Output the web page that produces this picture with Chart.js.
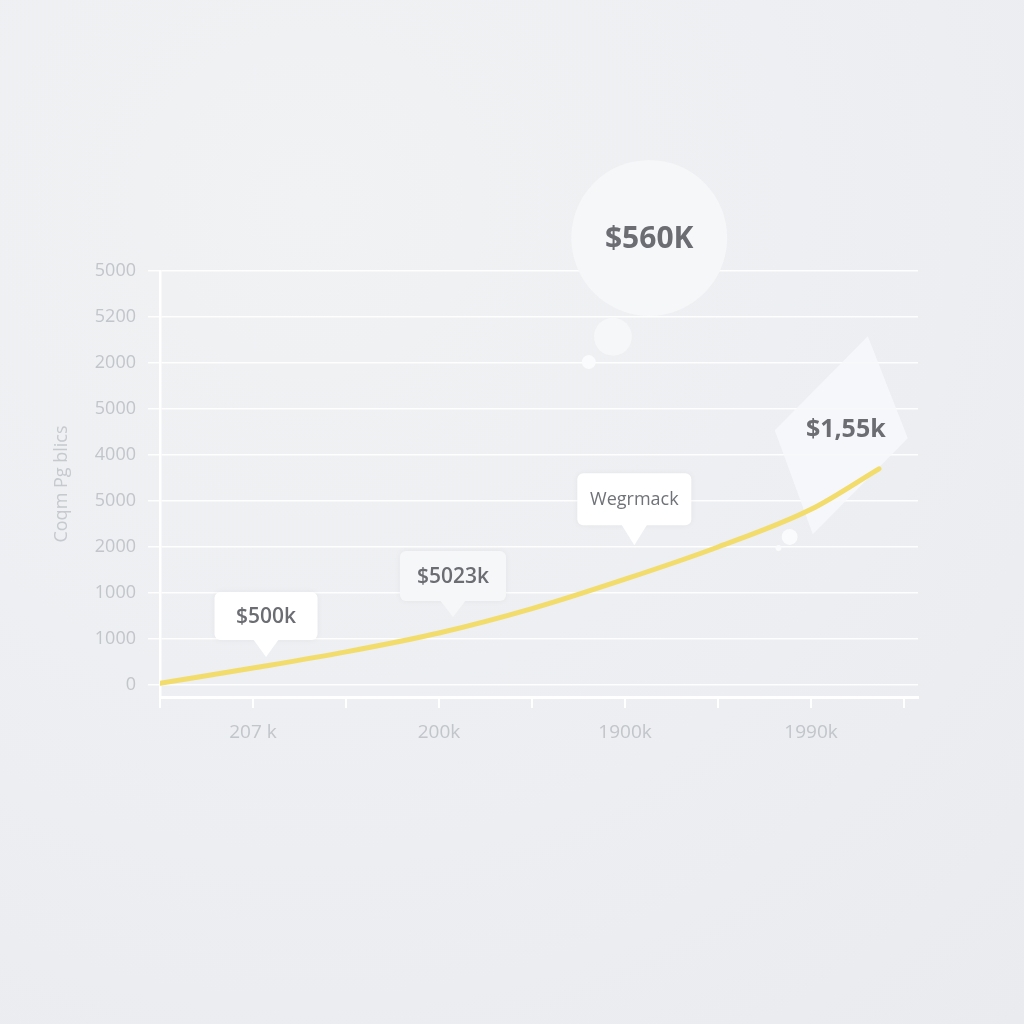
<!DOCTYPE html>
<html>
<head>
<meta charset="utf-8">
<script src="https://cdn.jsdelivr.net/npm/chart.js@4.4.1/dist/chart.umd.min.js"></script>
<style>
  html, body { margin: 0; padding: 0; }
  body {
    width: 1024px; height: 1024px; overflow: hidden;
    background: radial-gradient(circle at 30% 20%, #f1f2f4 0%, #eceef1 60%, #e9ebee 100%);
  }
  #wrap { position: absolute; left: 0; top: 0; width: 1024px; height: 1024px; }
</style>
</head>
<body>
<div id="wrap"><canvas id="chart" width="1024" height="1024"></canvas></div>
<script>
// Data
const xPositions = [0, 1, 2, 3, 4, 5, 6, 7, 7.73];
const seriesValues = [0.04, 0.37, 0.72, 1.13, 1.66, 2.3, 3.0, 3.82, 4.7];
const yTickLabels = ['0', '1000', '1000', '2000', '5000', '4000', '5000', '2000', '5200', '5000'];
const xTickLabels = ['', '207 k', '', '200k', '', '1900k', '', '1990k', ''];
const yTitle = 'Coqm Pg blics';

// Annotations (anchored in data space)
const callouts = [
    { text: '$500k', tipX: 1.14, tipY: 0.61, w: 103, h: 48, gap: 17, bold: true, size: 21, fill: '#ffffff' },
    { text: '$5023k', tipX: 3.15, tipY: 1.48, w: 106, h: 50, gap: 16, bold: true, size: 21, fill: '#f6f7f9' },
    { text: 'Wegrmack', tipX: 5.1, tipY: 3.04, w: 114, h: 52, gap: 20, bold: false, size: 18, fill: '#ffffff' }
];
const bubbles = [
    { x: 5.26, y: 9.72, r: 78, text: '$560K' },
    { x: 4.87, y: 7.57, r: 19 },
    { x: 4.61, y: 7.02, r: 7 },
    { x: 6.77, y: 3.22, r: 8 },
    { x: 6.65, y: 2.98, r: 3 }
];
const diamond = { x: 7.32, y: 5.43, text: '$1,55k' };

const FONT = '"Open Sans", "Noto Sans", sans-serif';
const TEXT_DARK = '#6b6d73';
const TICK_COLOR = '#c2c5ca';

// Draw annotations behind the line
const notesPlugin = {
    id: 'notes',
    beforeDatasetsDraw(chart) {
        const { ctx, scales: { x, y } } = chart;
        ctx.save();

        // bubbles
        bubbles.forEach(b => {
            const cx = x.getPixelForValue(b.x);
            const cy = y.getPixelForValue(b.y);
            ctx.beginPath();
            ctx.arc(cx, cy, b.r, 0, Math.PI * 2);
            ctx.fillStyle = b.r > 10 ? 'rgba(246,247,249,0.95)' : 'rgba(250,251,252,0.95)';
            ctx.fill();
            if (b.text) {
                ctx.fillStyle = TEXT_DARK;
                ctx.font = 'bold 30px ' + FONT;
                ctx.textAlign = 'center';
                ctx.textBaseline = 'middle';
                ctx.fillText(b.text, cx, cy + 2);
            }
        });

        // diamond
        const dx = x.getPixelForValue(diamond.x);
        const dy = y.getPixelForValue(diamond.y);
        ctx.beginPath();
        ctx.moveTo(dx + 27, dy - 99);
        ctx.lineTo(dx + 67, dy + 3);
        ctx.lineTo(dx - 28, dy + 99);
        ctx.lineTo(dx - 66, dy - 5);
        ctx.closePath();
        ctx.fillStyle = 'rgba(247,248,250,0.88)';
        ctx.fill();
        ctx.fillStyle = TEXT_DARK;
        ctx.font = 'bold 25px ' + FONT;
        ctx.textAlign = 'center';
        ctx.textBaseline = 'middle';
        ctx.fillText(diamond.text, dx + 5, dy - 5);

        // callouts
        callouts.forEach(c => {
            const tx = x.getPixelForValue(c.tipX);
            const ty = y.getPixelForValue(c.tipY);
            const bottom = ty - c.gap;
            const left = tx - c.w / 2;
            const top = bottom - c.h;
            ctx.shadowColor = 'rgba(0,0,0,0.05)';
            ctx.shadowBlur = 6;
            ctx.fillStyle = c.fill;
            ctx.beginPath();
            ctx.roundRect(left, top, c.w, c.h, 6);
            ctx.fill();
            ctx.shadowBlur = 0;
            ctx.beginPath();
            ctx.moveTo(tx - 13, bottom - 1);
            ctx.lineTo(tx + 13, bottom - 1);
            ctx.lineTo(tx, ty);
            ctx.closePath();
            ctx.fill();
            ctx.fillStyle = c.bold ? TEXT_DARK : '#6f7277';
            ctx.font = (c.bold ? '600 ' : '') + c.size + 'px ' + FONT;
            ctx.textAlign = 'center';
            ctx.textBaseline = 'middle';
            ctx.fillText(c.text, tx, top + c.h / 2 + 1);
        });

        ctx.restore();
    }
};

// one tick per label, at whole steps
const yTicks = (scale) => { scale.ticks = yTickLabels.map((_, i) => ({ value: i })); };
const xTicks = (scale) => { scale.ticks = xTickLabels.map((_, i) => ({ value: i })); };

const ctx = document.getElementById('chart').getContext('2d');
const chart = new Chart(ctx, {
    type: 'line',
    data: {
        datasets: [{
            data: xPositions.map((xv, i) => ({ x: xv, y: seriesValues[i] })),
            borderColor: '#f2dc6c',
            borderWidth: 5,
            borderCapStyle: 'round',
            pointRadius: 0,
            tension: 0.4,
            cubicInterpolationMode: 'monotone',
            fill: false
        }]
    },
    options: {
        responsive: false,
        animation: false,
        devicePixelRatio: 1,
        layout: { padding: { left: 40, right: 106, top: 271, bottom: 267 } },
        plugins: {
            legend: { display: false },
            tooltip: { enabled: false }
        },
        scales: {
            x: {
                type: 'linear',
                min: 0,
                max: 8.15,
                afterBuildTicks: xTicks,
                afterFit: (s) => { s.height = 60; },
                grid: {
                    drawOnChartArea: false,
                    drawTicks: true,
                    tickLength: 11,
                    color: 'rgba(255,255,255,0.95)',
                    lineWidth: 2
                },
                border: { display: true, color: '#ffffff', width: 3 },
                ticks: {
                    autoSkip: false,
                    maxRotation: 0,
                    padding: 13,
                    color: TICK_COLOR,
                    font: { family: FONT, size: 19 },
                    callback: (v) => xTickLabels[v] ?? ''
                }
            },
            y: {
                min: -0.26,
                max: 9,
                afterBuildTicks: yTicks,
                afterFit: (s) => { s.width = 120; },
                grid: {
                    color: 'rgba(255,255,255,0.9)',
                    lineWidth: 1.5,
                    tickLength: 12
                },
                border: { display: true, color: '#ffffff', width: 2.5 },
                ticks: {
                    autoSkip: false,
                    padding: 12,
                    color: TICK_COLOR,
                    font: { family: FONT, size: 18 },
                    callback: (v) => yTickLabels[v] ?? ''
                },
                title: {
                    display: true,
                    text: yTitle,
                    color: '#c6c9ce',
                    padding: { top: 11, bottom: 0 },
                    font: { family: FONT, size: 18 }
                }
            }
        }
    },
    plugins: [notesPlugin]
});
</script>
</body>
</html>
